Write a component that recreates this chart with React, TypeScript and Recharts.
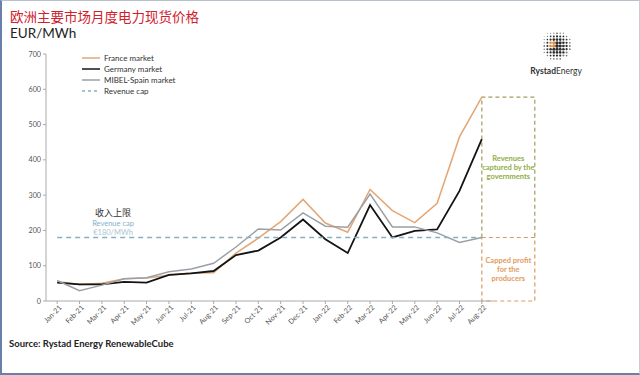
import React from 'react';
import { LineChart, Line, XAxis, YAxis, Legend, ReferenceArea, ReferenceDot, Label } from 'recharts';

const months = ['Jan-21','Feb-21','Mar-21','Apr-21','May-21','Jun-21','Jul-21','Aug-21','Sep-21','Oct-21','Nov-21','Dec-21','Jan-22','Feb-22','Mar-22','Apr-22','May-22','Jun-22','Jul-22','Aug-22'];
const france = [55,47,50,63,65,73,79,80,136,178,225,288,221,195,316,256,222,277,465,578];
const germany = [52,47,47,54,52,74,78,85,130,143,180,231,175,136,272,180,199,203,312,459];
const spain = [58,29,45,63,66,83,91,107,153,204,201,250,212,209,303,210,210,193,166,180];
const revenueCap = months.map(() => 180);
const yTicks = [0,100,200,300,400,500,600,700];
const capValue = 180;
const capturedTop = 578;
const boxStart = 19;
const boxEnd = 21.37;

const data = months.map((m, i) => ({ i, month: m, france: france[i], germany: germany[i], spain: spain[i], cap: revenueCap[i] }));

const FONT = 'Lato, "Noto Sans", sans-serif';

const XTick = (props: any) => {
  const { x, y, payload } = props;
  return (
    <g transform={`translate(${x},${y})`}>
      <text x={2} y={0} dy={5} textAnchor="end" transform="rotate(-45)" fontSize={7.2} fill="#555" fontFamily={FONT}>
        {months[payload.value]}
      </text>
    </g>
  );
};

const dashMap: Record<string, string | undefined> = { 'Revenue cap': '3 3' };

const LegendContent = (props: any) => {
  const { payload } = props;
  return (
    <div style={{ fontFamily: FONT, fontSize: 8, color: '#333' }}>
      {(payload || []).map((e: any) => (
        <div key={e.value} style={{ display: 'flex', alignItems: 'center', height: 11 }}>
          <svg width={19} height={6} style={{ marginRight: 3 }}>
            <line x1={0} y1={3} x2={18} y2={3} stroke={e.color} strokeWidth={1.5} strokeDasharray={dashMap[e.value]} />
          </svg>
          <span>{e.value}</span>
        </div>
      ))}
    </div>
  );
};

const boxText = (lines: string[], color: string) => (props: any) => {
  const vb = props.viewBox || {};
  const cx = vb.x + vb.width / 2;
  const cy = vb.y + vb.height / 2;
  const lh = 9;
  const start = cy - ((lines.length - 1) * lh) / 2 + 3;
  return (
    <text textAnchor="middle" fontSize={7.5} fontWeight={700} fill={color} fontFamily={FONT}>
      {lines.map((l, k) => (
        <tspan key={k} x={cx} y={start + k * lh}>{l}</tspan>
      ))}
    </text>
  );
};

const OpenBottomBox = (props: any) => {
  const { x, y, width, height, stroke } = props;
  return (
    <path
      d={`M${x},${y + height} L${x},${y} L${x + width},${y} L${x + width},${y + height}`}
      fill="none"
      stroke={stroke}
      strokeWidth={1.2}
      strokeDasharray="4 3"
    />
  );
};

const capText = (props: any) => {
  const vb = props.viewBox || {};
  const cx = vb.x + (vb.width || 0) / 2;
  const cy = vb.y + (vb.height || 0) / 2;
  return (
    <g fontFamily={FONT}>
      <text x={cx} y={cy - 21} textAnchor="middle" fontSize={9} fill="#333" fontFamily='"Noto Sans CJK SC", sans-serif'>收入上限</text>
      <text x={cx} y={cy - 11} textAnchor="middle" fontSize={7.5} fill="#7fb2cc">Revenue cap</text>
      <text x={cx} y={cy - 2} textAnchor="middle" fontSize={7.5} fill="#aac4d2">€180/MWh</text>
    </g>
  );
};

const Logo = () => {
  const dots: any[] = [];
  const R = 15;
  const sp = 3.2;
  for (let gy = -R; gy <= R; gy += sp) {
    for (let gx = -R; gx <= R; gx += sp) {
      const d = Math.sqrt(gx * gx + gy * gy);
      if (d > R) continue;
      const rr = 0.6 + 1.3 * (1 - d / R) + 0.4 * ((gx + gy) / (2 * R));
      const orange = gx > -8 && gx < -1 && gy > -3 && gy < 4;
      const shade = d / R > 0.8 ? '#777' : '#2e2e2e';
      dots.push(<circle key={`${gx}-${gy}`} cx={17 + gx} cy={17 + gy} r={Math.max(0.45, rr)} fill={orange ? '#e08a3c' : shade} />);
    }
  }
  return (
    <div style={{ position: 'absolute', left: 526, top: 28, width: 60, textAlign: 'center' }}>
      <svg width={34} height={34} style={{ display: 'block', margin: '0 auto' }}>{dots}</svg>
      <div style={{ fontFamily: FONT, fontSize: 8.5, color: '#333', marginTop: 4, whiteSpace: 'nowrap' }}>
        <b>Rystad</b>Energy
      </div>
    </div>
  );
};

export default function App() {
  return (
    <div style={{ position: 'absolute', left: 0, top: 0, width: 640, height: 375, background: '#fff', overflow: 'hidden' }}>
      <div style={{ position: 'absolute', left: 0, top: 0, width: 640, height: 375, boxSizing: 'border-box', borderTop: '1px solid #b8c0cc', borderRight: '1px solid #c8ced8', borderLeft: '2px solid #6a80a8', borderBottom: '2px solid #6a80a8' }} />
      <div style={{ position: 'absolute', left: 10, top: 6, fontFamily: '"Noto Sans CJK SC", sans-serif', fontSize: 13.5, color: '#d0202c', whiteSpace: 'nowrap' }}>
        欧洲主要市场月度电力现货价格
      </div>
      <div style={{ position: 'absolute', left: 10, top: 25, fontFamily: FONT, fontSize: 13.5, color: '#222' }}>EUR/MWh</div>
      <Logo />
      <div style={{ position: 'absolute', left: 0, top: 0 }}>
        <LineChart width={640} height={375} data={data} margin={{ top: 54, right: 147, bottom: 44, left: 0 }}>
          <XAxis
            dataKey="i"
            type="number"
            domain={[-0.5, 19.5]}
            ticks={months.map((_, i) => i)}
            tick={<XTick />}
            interval={0}
            height={30}
            stroke="#aaa"
            tickSize={3}
            allowDataOverflow
          />
          <YAxis
            domain={[0, 700]}
            ticks={yTicks}
            width={46}
            stroke="#aaa"
            tickSize={3}
            tick={{ fontSize: 7.2, fill: '#555', fontFamily: FONT }}
          />
          <ReferenceArea x1={boxStart} x2={boxEnd} y1={capValue} y2={capturedTop} ifOverflow="visible" fill="none" stroke="#a39d60" shape={<OpenBottomBox />}>
            <Label content={boxText(['Revenues', 'captured by the', 'governments'], '#8fae48')} />
          </ReferenceArea>
          <ReferenceArea x1={boxStart} x2={boxEnd} y1={0} y2={capValue} ifOverflow="visible" fill="none" stroke="#dc9a62" strokeDasharray="4 3" strokeWidth={1.2}>
            <Label content={boxText(['Capped profit', 'for the', 'producers'], '#e49a5c')} />
          </ReferenceArea>
          <Line type="linear" dataKey="france" name="France market" stroke="#e3a674" strokeWidth={1.5} dot={false} isAnimationActive={false} />
          <Line type="linear" dataKey="germany" name="Germany market" stroke="#141414" strokeWidth={1.8} dot={false} isAnimationActive={false} />
          <Line type="linear" dataKey="spain" name="MIBEL-Spain market" stroke="#9aa0a8" strokeWidth={1.5} dot={false} isAnimationActive={false} />
          <Line type="linear" dataKey="cap" name="Revenue cap" stroke="#86afc4" strokeWidth={1.5} strokeDasharray="5 4" dot={false} isAnimationActive={false} />
          <ReferenceDot x={2.5} y={capValue} r={0} fill="none" stroke="none" ifOverflow="visible">
            <Label content={capText} />
          </ReferenceDot>
          <Legend layout="vertical" align="center" verticalAlign="middle" content={<LegendContent />} wrapperStyle={{ top: 52, left: 82, width: 'auto', height: 'auto' }} />
        </LineChart>
      </div>
      <div style={{ position: 'absolute', left: 9, top: 338, fontFamily: FONT, fontSize: 9.5, fontWeight: 700, color: '#222', whiteSpace: 'nowrap' }}>
        Source: Rystad Energy RenewableCube
      </div>
    </div>
  );
}
